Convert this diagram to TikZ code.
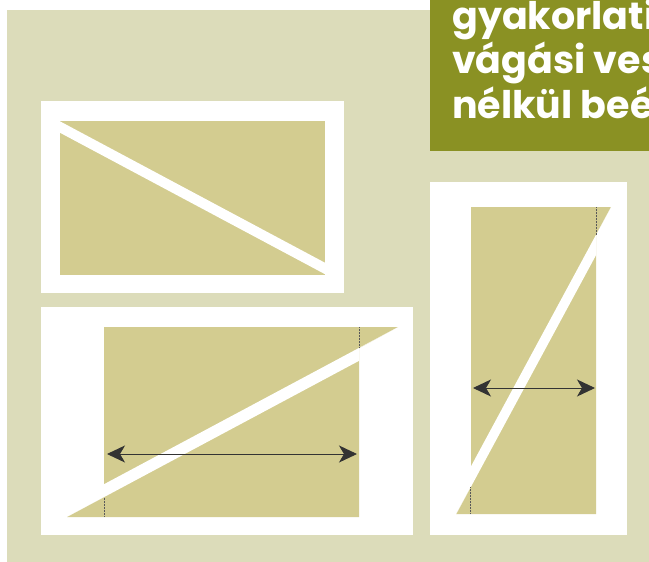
\documentclass[tikz,border=0pt]{standalone}
\usepackage{fontspec}
\newfontfamily\titlefont{Poppins}
\usetikzlibrary{arrows.meta}
\definecolor{panel}{HTML}{DCDCBA}
\definecolor{sheet}{HTML}{D3CC90}
\definecolor{olive}{HTML}{8A9123}
\tikzset{
  frame/.style={fill=white, draw=none},
  sheetfill/.style={fill=sheet, draw=none},
  cut/.style={draw=white, line cap=butt},
  edgemark/.style={draw=black!65, line width=0.5pt, densely dotted},
  dimarrow/.style={draw=black!80, line width=0.9pt, {Stealth[length=18pt,width=17pt,inset=5pt]}-{Stealth[length=18pt,width=17pt,inset=5pt]}},
  titleline/.style={anchor=base west, inner sep=0pt, text=white, font=\titlefont\bfseries\fontsize{38}{44}\selectfont}
}
\begin{document}
\begin{tikzpicture}[x=1pt,y=-1pt]
\useasboundingbox (0,0) rectangle (649,562);
\fill[white] (0,0) rectangle (649,562);
% panel
\fill[panel] (7,10) rectangle (649,562);
% title box
\fill[olive] (430,0) rectangle (649,151);
\begin{scope}
\clip (430,0) rectangle (649,151);
\node[titleline] (t1) at (452,29) {gyakorlati};
\node[titleline] (t2) at (452,73.5) {vágási ves};
\node[titleline] (t3) at (452,118) {nélkül beé};
\end{scope}
% top-left box
\fill[frame] (41,101) rectangle (344,293);
\fill[sheetfill] (60,121) rectangle (325,275);
\begin{scope}
\clip (60,121) rectangle (325,275);
\draw[cut, line width=10.1pt] (50,121.7) -- (335,273.8);
\end{scope}
% bottom-left box
\fill[frame] (41,307) rectangle (413,535);
\fill[sheetfill] (104,327) -- (398,327) -- (359,348.3) -- (359,517) -- (67,517) -- (104,497.2) -- cycle;
\begin{scope}
\clip (104,327) -- (398,327) -- (359,348.3) -- (359,517) -- (67,517) -- (104,497.2) -- cycle;
\draw[cut, line width=11.4pt] (60,514.2) -- (405,329.8);
\end{scope}
\draw[edgemark] (104,497.5) -- (104,517);
\draw[edgemark] (359,327) -- (359,348);
\coordinate (a1) at (107,454);
\coordinate (a2) at (357,454);
\draw[dimarrow] (a1) -- (a2);
% right box
\fill[frame] (430,182) rectangle (627,535);
\fill[sheetfill] (471,207) -- (611,207) -- (596,234.8) -- (596,514) -- (456.2,514) -- (471,486.6) -- cycle;
\begin{scope}
\clip (471,207) -- (611,207) -- (596,234.8) -- (596,514) -- (456.2,514) -- (471,486.6) -- cycle;
\draw[cut, line width=9.7pt] (620.3,200) -- (447.5,520);
\end{scope}
\draw[edgemark] (596,207) -- (596,235);
\draw[edgemark] (470.5,487) -- (470.5,514);
\coordinate (b1) at (473,388);
\coordinate (b2) at (595,388);
\draw[dimarrow] (b1) -- (b2);
\end{tikzpicture}
\end{document}
